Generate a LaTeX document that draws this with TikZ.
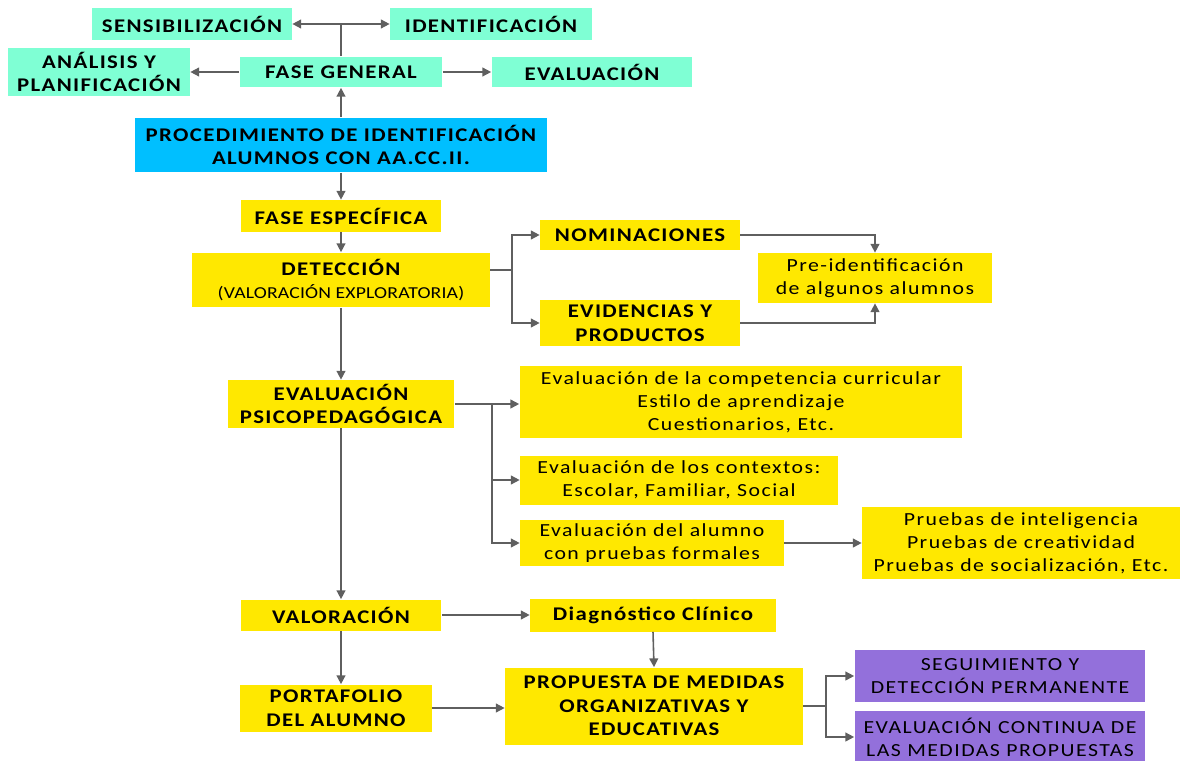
\documentclass[tikz,border=0pt]{standalone}
\usepackage{fontspec}
\setmainfont{Carlito}[FakeStretch=1.18]
\usepackage{xcolor}
\usetikzlibrary{arrows.meta}

\definecolor{tealBox}{RGB}{127,255,212}
\definecolor{blueBox}{RGB}{0,191,255}
\definecolor{yellowBox}{RGB}{255,232,0}
\definecolor{purpleBox}{RGB}{147,112,219}
\definecolor{lineGray}{RGB}{95,95,95}

\tikzset{
  box/.style={inner sep=1pt, align=center, text=black},
  capsbox/.style={box, font=\bfseries\addfontfeature{LetterSpace=7}\fontsize{11}{13.5}\selectfont},
  smallbox/.style={box, font=\addfontfeature{LetterSpace=8}\fontsize{10.5}{13}\selectfont},
  tealbox/.style={capsbox, fill=tealBox},
  bluebox/.style={capsbox, fill=blueBox},
  yellowbox/.style={capsbox, fill=yellowBox},
  ytextbox/.style={smallbox, fill=yellowBox},
  purplebox/.style={smallbox, fill=purpleBox},
  conn/.style={draw=lineGray, line width=0.9pt, -{Triangle[length=5pt,width=5pt]}},
  line/.style={draw=lineGray, line width=0.9pt}
}

\begin{document}
\begin{tikzpicture}[x=0.02cm, y=-0.02cm]
\clip (0,0) rectangle (1192,760);

% fase general
\node[tealbox, minimum width=4cm, minimum height=0.64cm] (sens) at (192,24) {SENSIBILIZACIÓN};
\node[tealbox, minimum width=4.04cm, minimum height=0.64cm] (ident) at (491,24) {IDENTIFICACIÓN};
\node[tealbox, minimum width=3.64cm, minimum height=0.98cm] (anal) at (99,72) {ANÁLISIS Y\\PLANIFICACIÓN};
\node[tealbox, minimum width=4.06cm, minimum height=0.62cm] (fgen) at (341,72) {FASE GENERAL};
\node[tealbox, minimum width=4.02cm, minimum height=0.62cm] (evalg) at (592,72) {EVALUACIÓN};
\node[bluebox, minimum width=8.26cm, minimum height=1.1cm] (proc) at (341,145) {PROCEDIMIENTO DE IDENTIFICACIÓN\\ALUMNOS CON AA.CC.II.};

% fase especifica
\node[yellowbox, minimum width=4.02cm, minimum height=0.64cm] (fesp) at (341,216) {FASE ESPECÍFICA};
\node[yellowbox, minimum width=5.96cm, minimum height=1.1cm] (det) at (341,280) {DETECCIÓN\\{\mdseries\addfontfeature{LetterSpace=1}\fontsize{9.5}{12}\selectfont (VALORACIÓN EXPLORATORIA)}};
\node[yellowbox, minimum width=4cm, minimum height=0.6cm] (nom) at (640,235) {NOMINACIONES};
\node[yellowbox, minimum width=4cm, minimum height=0.92cm] (evid) at (640,323) {EVIDENCIAS Y\\PRODUCTOS};
\node[ytextbox, minimum width=4.7cm, minimum height=1cm] (pre) at (875,278) {Pre-identificación\\de algunos alumnos};

\node[yellowbox, minimum width=4.54cm, minimum height=0.96cm] (psico) at (341,404) {EVALUACIÓN\\PSICOPEDAGÓGICA};
\node[ytextbox, minimum width=8.86cm, minimum height=1.44cm] (comp) at (741,402) {Evaluación de la competencia curricular\\Estilo de aprendizaje\\Cuestionarios, Etc.};
\node[ytextbox, minimum width=6.36cm, minimum height=0.98cm] (ctx) at (679,480) {Evaluación de los contextos:\\Escolar, Familiar, Social};
\node[ytextbox, minimum width=5.28cm, minimum height=0.92cm] (alum) at (652,543) {Evaluación del alumno\\con pruebas formales};
\node[ytextbox, minimum width=6.36cm, minimum height=1.44cm] (prue) at (1021,543) {Pruebas de inteligencia\\Pruebas de creatividad\\Pruebas de socialización, Etc.};

\node[yellowbox, minimum width=4.02cm, minimum height=0.62cm] (valor) at (341,615) {VALORACIÓN};
\node[yellowbox, minimum width=4.92cm, minimum height=0.66cm] (diag) at (653,615) {Diagnóstico Clínico};
\node[yellowbox, minimum width=3.84cm, minimum height=0.94cm] (port) at (336,708) {PORTAFOLIO\\DEL ALUMNO};
\node[yellowbox, minimum width=5.96cm, minimum height=1.54cm] (prop) at (654,706) {PROPUESTA DE MEDIDAS\\ORGANIZATIVAS Y\\EDUCATIVAS};
\node[purplebox, minimum width=5.82cm, minimum height=1.04cm] (seg) at (1000,676) {SEGUIMIENTO Y\\DETECCIÓN PERMANENTE};
\node[purplebox, minimum width=5.82cm, minimum height=1.04cm] (cont) at (1000,737) {EVALUACIÓN CONTINUA DE\\LAS MEDIDAS PROPUESTAS};

% conectores
\coordinate (topj) at (fgen.north |- sens.east);
\draw[line] (fgen.north) -- (topj);
\draw[conn] (topj) -- (sens.east);
\draw[conn] (topj) -- (ident.west);
\draw[conn] (fgen.west) -- (anal.east);
\draw[conn] (fgen.east) -- (evalg.west);
\draw[conn] (proc.north) -- (fgen.south);
\draw[conn] (proc.south) -- (fesp.north);
\draw[conn] (fesp.south) -- (det.north);

\coordinate (detj) at (512,270);
\draw[line] (det.east |- detj) -- (detj);
\draw[conn] (detj) |- (nom.west);
\draw[conn] (detj) |- (evid.west);
\draw[conn] (nom.east) -| (pre.north);
\draw[conn] (evid.east) -| (pre.south);

\draw[conn] (det.south) -- (psico.north);
\coordinate (psj) at (492,404);
\draw[line] (psico.east) -- (psj);
\draw[conn] (psj) -- (comp.west |- psj);
\draw[conn] (psj) |- (ctx.west);
\draw[conn] (psj) |- (alum.west);
\draw[conn] (alum.east) -- (prue.west);

\draw[conn] (psico.south) -- (valor.north);
\draw[conn] (valor.east) -- (diag.west);
\draw[conn] (diag.south) -- (prop.north);
\draw[conn] (valor.south) -- (valor.south |- port.north);
\draw[conn] (port.east) -- (port.east -| prop.west);

\coordinate (prj) at (826,706);
\draw[line] (prop.east) -- (prj);
\draw[conn] (prj) |- (seg.west);
\draw[conn] (prj) |- (cont.west);
\end{tikzpicture}
\end{document}
